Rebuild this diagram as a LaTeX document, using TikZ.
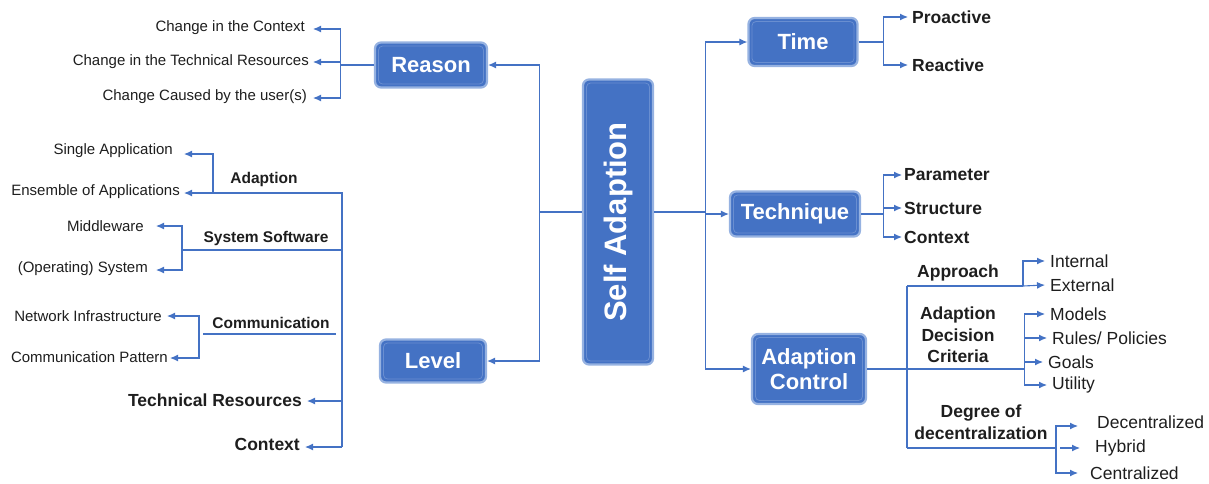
\documentclass[tikz,border=0pt]{standalone}
\usepackage{fontspec}
\setmainfont{Liberation Sans}
\usetikzlibrary{arrows.meta}
\definecolor{MapBlue}{RGB}{68,114,196}
\definecolor{MapRim}{RGB}{150,178,225}
\definecolor{MapText}{RGB}{30,30,30}

\begin{document}
\begin{tikzpicture}[x=1pt,y=-1pt,
  box/.style={draw=MapRim, line width=2.2pt, fill=MapBlue, rounded corners=6pt, text=white,
    font=\fontsize{22}{26}\selectfont\bfseries, inner sep=0pt, align=center,
    path picture={\draw[MapBlue!80!white, line width=0.8pt, rounded corners=4pt]
      ([shift={(3.5pt,3.5pt)}]path picture bounding box.south west) rectangle
      ([shift={(-3.5pt,-3.5pt)}]path picture bounding box.north east);}},
  conn/.style={draw=MapBlue, line width=1.1pt},
  arr/.style={conn, -{Latex[length=8pt,width=7pt]}},
  leaf/.style={text=MapText, font=\fontsize{15}{18}\selectfont, inner sep=2pt},
  sub/.style={text=MapText, font=\fontsize{15.5}{18}\selectfont\bfseries, inner sep=2pt},
  head/.style={text=MapText, font=\fontsize{17.5}{21.5}\selectfont\bfseries, inner sep=2pt, align=center},
  item/.style={text=MapText, font=\fontsize{17.5}{21}\selectfont, inner sep=2pt, inner xsep=5pt}]
\useasboundingbox (0,0) rectangle (1209,483);

% Main boxes
\node[box, minimum width=70pt, minimum height=285pt] (sa) at (618,222) {};
\node[rotate=90, text=white, font=\fontsize{31}{36}\selectfont\bfseries] (satext) at (sa) {Self Adaption};
\node[box, minimum width=112pt, minimum height=45pt] (reason) at (431,65) {Reason};
\node[box, minimum width=106pt, minimum height=43pt] (level) at (433,361) {Level};
\node[box, minimum width=109pt, minimum height=48pt] (time) at (803,42) {Time};
\node[box, minimum width=130pt, minimum height=45pt] (tech) at (795,214) {Technique};
\node[box, minimum width=114pt, minimum height=70pt] (ac) at (809,369) {Adaption\\[-1pt]Control};

% Trunk lines
\draw[conn] ([yshift=10pt]sa.west) -- ++(-42,0) coordinate (jl);
\draw[arr] (jl) |- (reason.east);
\draw[arr] (jl) |- (level.east);
\draw[conn] ([yshift=10pt]sa.east) -- ++(51,0) coordinate (jr);
\draw[arr] (jr) |- (time.west);
\draw[arr] (jr) |- (tech.west);
\draw[arr] (jr) |- (ac.west);

% Time
\node[head, anchor=west] (pro) at (910,17) {Proactive};
\node[head, anchor=west] (rea) at (910,65) {Reactive};
\draw[conn] (time.east) -- ++(25,0) coordinate (tmk);
\draw[arr] (tmk) |- ([xshift=-2pt]pro.west);
\draw[arr] (tmk) |- ([xshift=-2pt]rea.west);

% Technique
\node[head, anchor=west] (par) at (902,175) {Parameter};
\node[head, anchor=west] (str) at (902,208) {Structure};
\node[head, anchor=west] (ctx) at (902,237) {Context};
\draw[conn] (tech.east) -- ++(22,0) coordinate (tck);
\draw[arr] (tck) |- (par.west);
\draw[arr] (tck) |- (str.west);
\draw[arr] (tck) |- (ctx.west);

% Adaption control
\coordinate (apj) at (907,286);
\coordinate (apk) at (1023,286);
\coordinate (dgj) at (907,448);
\coordinate (dgk) at (1056,448);
\draw[conn] (ac.east) -- ++(41,0) coordinate (acj) -- ++(116,0) coordinate (crk);
\draw[conn] (apj) -- (dgj);
\draw[conn] (apj) -- (apk);
\draw[conn] (dgj) -- (dgk);
\node[head] (apl) at (958,273) {Approach};
\node[head] (crl) at (958,335) {Adaption\\Decision\\Criteria};
\node[head] (dgl) at (981,422) {Degree of\\decentralization};
\node[item, anchor=west] (int) at (1045,261) {Internal};
\node[item, anchor=west] (ext) at (1045,285) {External};
\node[item, anchor=west] (mod) at (1045,314) {Models};
\node[item, anchor=west] (rul) at (1047,338) {Rules/ Policies};
\node[item, anchor=west] (goa) at (1043,362) {Goals};
\node[item, anchor=west] (uti) at (1047,385) {Utility};
\node[item, anchor=west] (dec) at (1092,422) {Decentralized};
\node[item, anchor=west] (hyb) at (1090,448) {Hybrid};
\node[item, anchor=west] (cen) at (1085,473) {Centralized};
\draw[arr] (apk) |- (int.west);
\draw[arr] (apk) -- (ext.west);
\draw[arr] (crk) |- (mod.west);
\draw[arr] (crk) |- (rul.west);
\draw[arr] (crk) |- (goa.west);
\draw[arr] (crk) |- (uti.west);
\draw[arr] (dgk) |- ([xshift=-14pt,yshift=-4pt]dec.west);
\draw[arr] ([xshift=4pt]dgk) -- ([xshift=-10pt]hyb.west);
\draw[arr] (dgk) |- ([xshift=-7pt]cen.west);

% Reason
\node[leaf, anchor=east] (c1) at (307,28) {Change in the Context};
\node[leaf, anchor=east] (c2) at (311,62) {Change in the Technical Resources};
\node[leaf, anchor=east] (c3) at (309,97) {Change Caused by the user(s)};
\draw[conn] (reason.west) -- ++(-33,0) coordinate (rsk);
\draw[arr] (rsk) |- ([xshift=6pt,yshift=-1pt]c1.east);
\draw[arr] (rsk) |- ([xshift=2pt]c2.east);
\draw[arr] (rsk) |- ([xshift=4pt,yshift=-1pt]c3.east);

% Level
\coordinate (lvt) at (342,193);
\coordinate (lvb) at (342,447);
\coordinate (adk) at (213,193);
\coordinate (ssj) at (342,250);
\coordinate (ssk) at (182,250);
\coordinate (cmk) at (199,334);
\coordinate (trj) at (342,401);
\draw[conn] (adk) -- (lvt) -- (lvb);
\draw[conn] (ssj) -- (ssk);
\draw[conn] ([xshift=4pt]cmk) -- (336,334);
\node[sub] (adl) at (264,179) {Adaption};
\node[sub] (ssl) at (266,238) {System Software};
\node[sub] (cml) at (271,323) {Communication};
\node[leaf, anchor=east] (sgl) at (175,151) {Single Application};
\node[leaf, anchor=east] (ens) at (182,192) {Ensemble of Applications};
\node[leaf, anchor=east] (mid) at (146,226) {Middleware};
\node[leaf, anchor=east] (ops) at (150,269) {(Operating) System};
\node[leaf, anchor=east] (net) at (164,316) {Network Infrastructure};
\node[leaf, anchor=east] (pat) at (170,357) {Communication Pattern};
\node[head, anchor=east] (tres) at (304,400) {Technical Resources};
\node[head, anchor=east] (lctx) at (302,444) {Context};
\draw[arr] (adk) |- ([xshift=9pt,yshift=-3pt]sgl.east);
\draw[arr] (adk) -- ([xshift=2pt,yshift=-1pt]ens.east);
\draw[arr] (ssk) |- ([xshift=10pt]mid.east);
\draw[arr] (ssk) |- ([xshift=6pt,yshift=-1pt]ops.east);
\draw[arr] (cmk) |- ([xshift=3pt]net.east);
\draw[arr] (cmk) |- ([yshift=-1pt]pat.east);
\draw[arr] (trj) -- ([xshift=3pt,yshift=-1pt]tres.east);
\draw[arr] (lvb) -- ([xshift=3pt,yshift=-3pt]lctx.east);

\end{tikzpicture}
\end{document}
